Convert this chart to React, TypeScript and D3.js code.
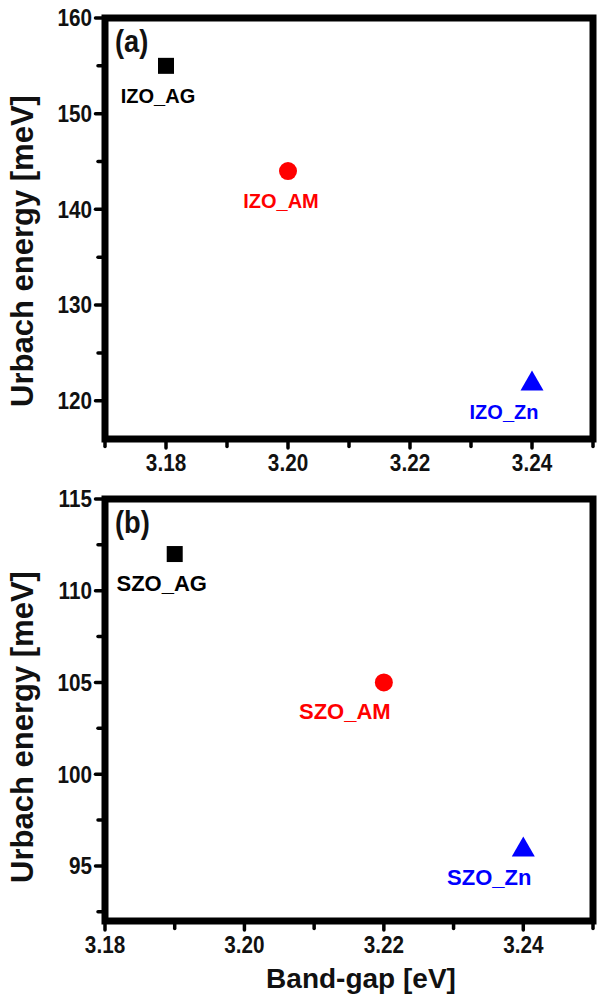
import React from "react";
import * as d3 from "d3";

// panel (a): IZO
const izoNames = ["IZO_AG", "IZO_AM", "IZO_Zn"];
const izoGap = [3.18, 3.2, 3.24];
const izoUrbach = [155, 144, 122];

// panel (b): SZO
const szoNames = ["SZO_AG", "SZO_AM", "SZO_Zn"];
const szoGap = [3.19, 3.22, 3.24];
const szoUrbach = [112, 105, 96];

const markerShapes = ["square", "circle", "triangle"];
const markerColors = ["#000000", "#ff0000", "#0000ff"];

const izoXTicks = [3.18, 3.2, 3.22, 3.24];
const izoYTicks = [120, 130, 140, 150, 160];
const szoXTicks = [3.18, 3.2, 3.22, 3.24];
const szoYTicks = [95, 100, 105, 110, 115];

const FONT = "'Liberation Sans', Arial, Helvetica, sans-serif";

function Marker({ shape, x, y, color }) {
  if (shape === "square") {
    return <rect x={x - 8} y={y - 8} width={16} height={16} fill={color} />;
  }
  if (shape === "circle") {
    return <circle cx={x} cy={y} r={9} fill={color} />;
  }
  const path = d3.path();
  path.moveTo(x, y - 11);
  path.lineTo(x + 11.5, y + 9);
  path.lineTo(x - 11.5, y + 9);
  path.closePath();
  return <path d={path.toString()} fill={color} />;
}

function Panel({ tag, names, xs, ys, xDomain, yDomain, xTicks, yTicks, xMinor, yMinor, top, bottom, labelSize, labelDx, titleY }) {
  const left = 105;
  const right = 593;
  const x = d3.scaleLinear().domain(xDomain).range([left, right]);
  const y = d3.scaleLinear().domain(yDomain).range([bottom, top]);
  const fmtX = d3.format(".2f");

  return (
    <g>
      {/* minor ticks */}
      {xMinor.map((t) => (
        <line key={"xm" + t} x1={x(t)} x2={x(t)} y1={bottom} y2={bottom + 7.5}
          stroke="#000" strokeWidth={3.5} strokeLinecap="round" />
      ))}
      {yMinor.map((t) => (
        <line key={"ym" + t} x1={left} x2={left - 7} y1={y(t)} y2={y(t)}
          stroke="#000" strokeWidth={3.5} strokeLinecap="round" />
      ))}
      {xTicks.map((t) => (
        <line key={"xt" + t} x1={x(t)} x2={x(t)} y1={bottom} y2={bottom + 9}
          stroke="#000" strokeWidth={3.5} strokeLinecap="round" />
      ))}
      {yTicks.map((t) => (
        <line key={"yt" + t} x1={left} x2={left - 9.5} y1={y(t)} y2={y(t)}
          stroke="#000" strokeWidth={3.5} strokeLinecap="round" />
      ))}
      <rect x={left} y={top} width={right - left} height={bottom - top}
        fill="none" stroke="#000" strokeWidth={7} />

      {xTicks.map((t) => (
        <text key={"xl" + t} transform={`translate(${x(t)},${bottom + 32}) scale(0.9,1)`} textAnchor="middle"
          fontSize={23} fontWeight="bold" fill="#111">{fmtX(t)}</text>
      ))}
      {yTicks.map((t) => (
        <text key={"yl" + t} transform={`translate(92,${y(t)}) scale(0.9,1)`} dy="0.36em" textAnchor="end"
          fontSize={23} fontWeight="bold" fill="#111">{t}</text>
      ))}

      <text transform={`translate(115,${top + 34}) scale(0.88,1)`} fontSize={31} fontWeight="bold" fill="#111">{tag}</text>

      {names.map((n, i) => (
        <g key={n}>
          <Marker shape={markerShapes[i]} x={x(xs[i])} y={y(ys[i])} color={markerColors[i]} />
          <text x={x(xs[i]) + labelDx[i]} y={y(ys[i]) + 37} textAnchor="middle"
            fontSize={labelSize} fontWeight="bold" fill={markerColors[i]}>{n}</text>
        </g>
      ))}

      <text transform={`translate(33,${titleY}) rotate(-90)`} textAnchor="middle"
        fontSize={31} fontWeight="bold" fill="#111">Urbach energy [meV]</text>
    </g>
  );
}

export default function App() {
  return (
    <svg width={597} height={1001} style={{ position: "absolute", left: 0, top: 0, fontFamily: FONT, background: "#fff" }}>
      <Panel tag="(a)" names={izoNames} xs={izoGap} ys={izoUrbach}
        xDomain={[3.17, 3.25]} yDomain={[116, 160]}
        xTicks={izoXTicks} yTicks={izoYTicks}
        xMinor={[3.17, 3.19, 3.21, 3.23, 3.25]} yMinor={[125, 135, 145, 155]}
        top={18} bottom={439} labelSize={20} labelDx={[-8, -7, -28]} titleY={251} />
      <Panel tag="(b)" names={szoNames} xs={szoGap} ys={szoUrbach}
        xDomain={[3.18, 3.25]} yDomain={[92, 115]}
        xTicks={szoXTicks} yTicks={szoYTicks}
        xMinor={[3.19, 3.21, 3.23, 3.25]} yMinor={[92.5, 97.5, 102.5, 107.5, 112.5]}
        top={499} bottom={921} labelSize={22} labelDx={[-13, -39, -34]} titleY={727} />
      <text x={361} y={988} textAnchor="middle" fontSize={28} fontWeight="bold" fill="#111">Band-gap [eV]</text>
    </svg>
  );
}
